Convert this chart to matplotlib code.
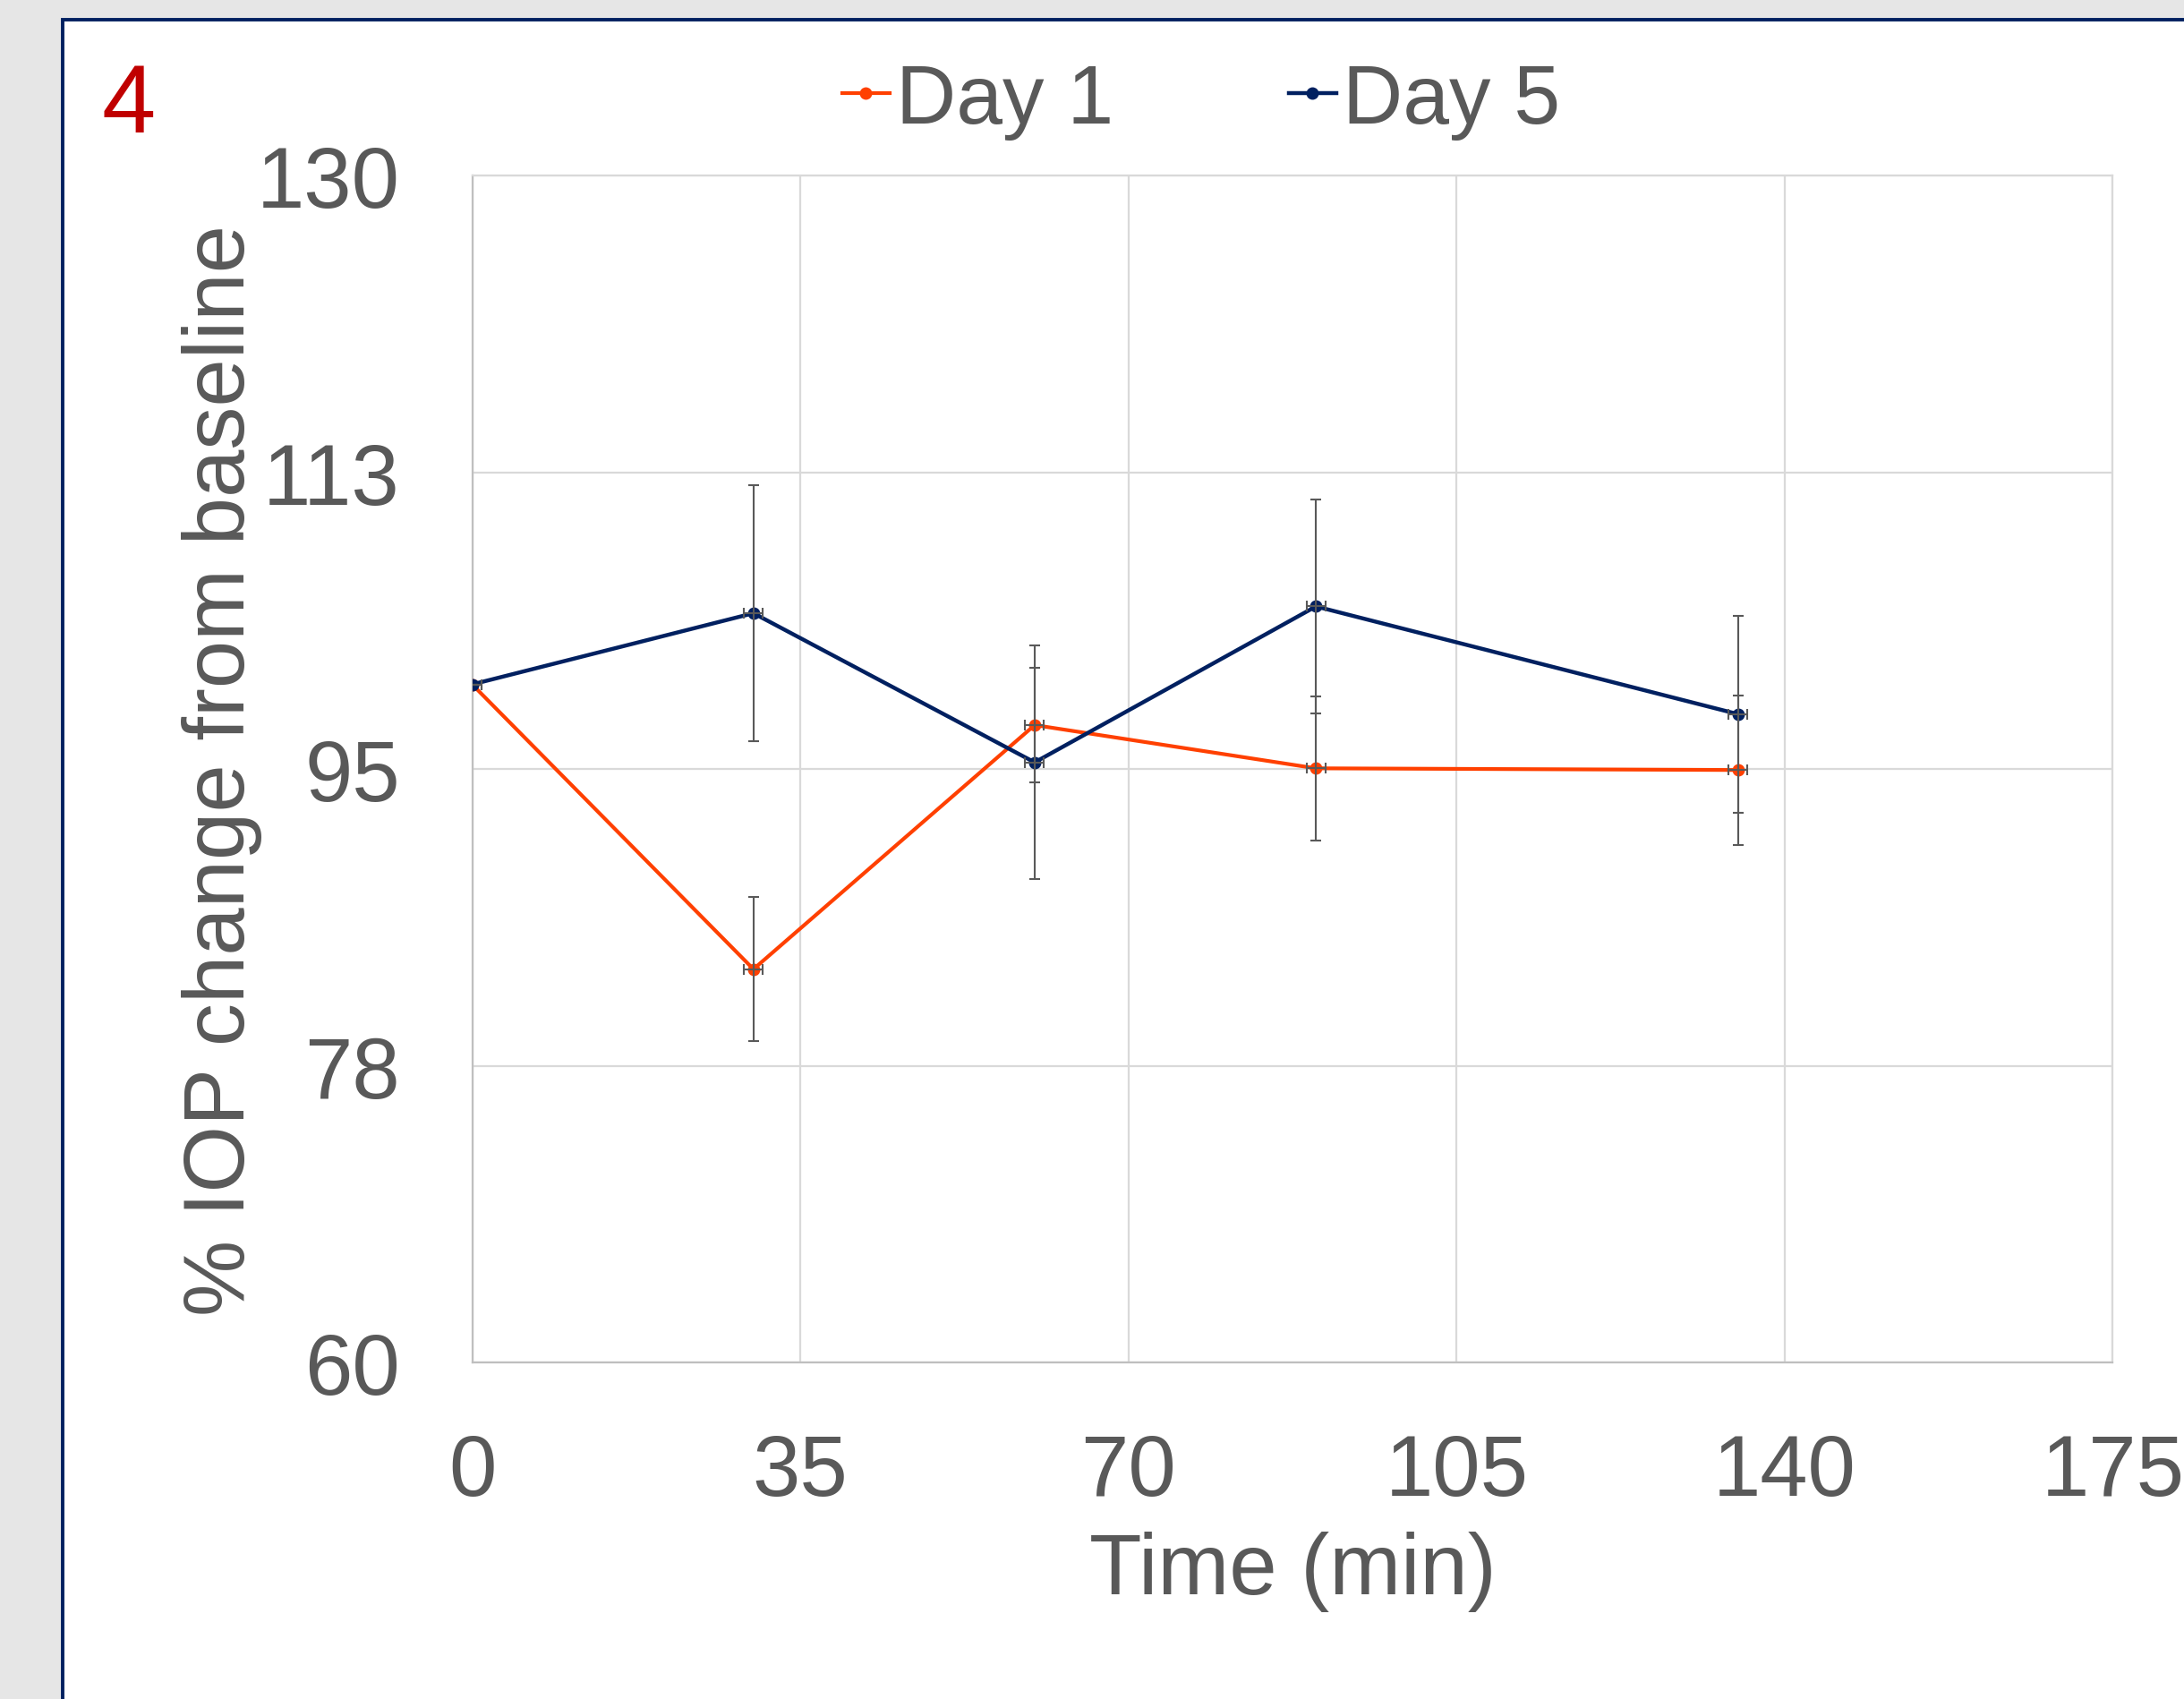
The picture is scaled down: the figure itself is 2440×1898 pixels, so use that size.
import matplotlib.pyplot as plt
from matplotlib.patches import Rectangle

plt.rcParams['font.family'] = ['Liberation Sans', 'DejaVu Sans']

time = [0, 30, 60, 90, 135]
time_err = [1, 1, 1, 1, 1]
day1 = [100.0, 83.2, 97.6, 95.05, 94.95]
day1_err = [0, 4.25, 3.4, 4.25, 4.4]
day5 = [100.0, 104.2, 95.4, 104.6, 98.25]
day5_err = [0, 7.55, 6.9, 6.3, 5.8]

y_ticks = [60, 77.5, 95, 112.5, 130]
y_tick_labels = ['60', '78', '95', '113', '130']
x_ticks = [0, 35, 70, 105, 140, 175]

text_grey = '#595959'
orange = '#ff4000'
navy = '#002060'

fig = plt.figure(figsize=(24.4, 18.99), dpi=100)
fig.patch.set_facecolor('#e6e6e6')

# white panel with a navy edge on the left and top
panel = Rectangle((70 / 2440, -0.1), 1.2, 1.1 - 23 / 1899, transform=fig.transFigure,
                  facecolor='white', edgecolor=navy, linewidth=2.8, zorder=-10)
fig.patches.append(panel)

ax = fig.add_axes([0.2162, 0.198, 0.7512, 0.698])
ax.set_facecolor('white')

ax.plot(time, day1, color=orange, lw=3.0, marker='o', ms=9, label='Day 1', zorder=3)
ax.plot(time, day5, color=navy, lw=3.2, marker='o', ms=9, label='Day 5', zorder=3)

for vals, err in [(day1, day1_err), (day5, day5_err)]:
    ax.errorbar(time, vals, yerr=err, xerr=time_err, fmt='none', ecolor=text_grey,
                elinewidth=1.5, capsize=4.5, capthick=1.5, zorder=4)

ax.set_xlim(0, 175)
ax.set_ylim(60, 130)
ax.set_xticks(x_ticks)
ax.set_yticks(y_ticks)
ax.set_yticklabels(y_tick_labels)
ax.tick_params(length=0, labelsize=69, colors=text_grey)
ax.tick_params(axis='y', pad=58)
ax.tick_params(axis='x', pad=56)
ax.grid(color='#d9d9d9', lw=1.6)
ax.set_axisbelow(True)
for s in ax.spines.values():
    s.set_color('#d9d9d9')
    s.set_linewidth(1.6)
ax.spines['left'].set_color('#bfbfbf')
ax.spines['bottom'].set_color('#bfbfbf')

ax.set_xlabel('Time (min)', fontsize=69, color=text_grey)
ax.set_ylabel('% IOP change from baseline', fontsize=69, color=text_grey)
ax.xaxis.set_label_coords(0.5, -0.142)
ax.yaxis.set_label_coords(-0.128, 0.5)

fig.legend(loc='center', bbox_to_anchor=(0.55, 0.94), ncol=2, frameon=False,
           fontsize=67, labelcolor=text_grey, handlelength=0.57, handletextpad=0.08,
           columnspacing=2.1)

fig.text(114 / 2440, 1 - 70 / 1899, '4', color='#c00000', fontsize=78, ha='left', va='top')

fig.savefig('out.png', dpi=100, facecolor=fig.get_facecolor())
